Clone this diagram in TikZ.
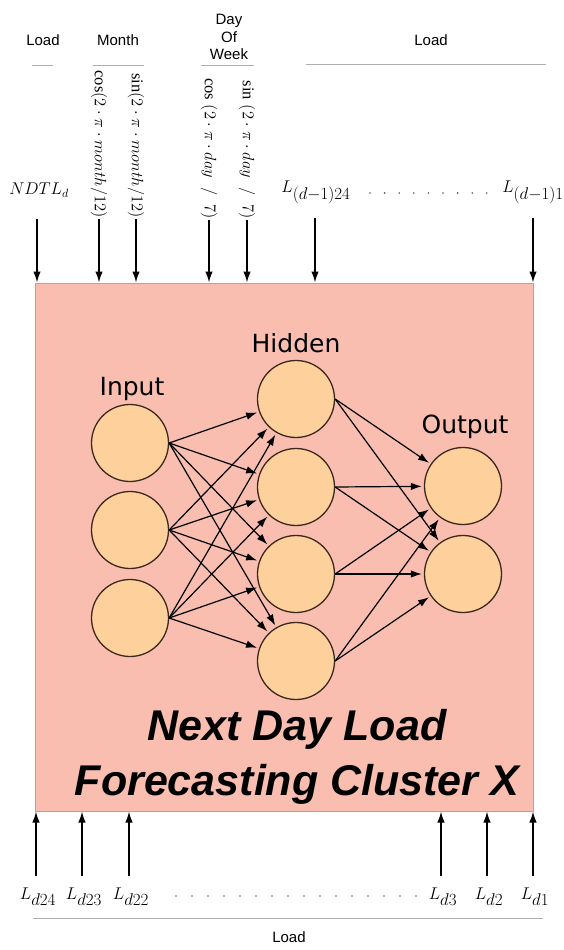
\documentclass[tikz,border=0pt]{standalone}
\usepackage{fix-cm}
\usepackage{fontspec}
\setmainfont{Liberation Sans}
\setmathrm{Liberation Serif}
\newfontfamily\layerfont{DejaVu Sans}
\usetikzlibrary{arrows.meta,positioning}

\definecolor{clusterfill}{RGB}{249,190,176}
\definecolor{clusterline}{RGB}{190,160,155}
\definecolor{neuronfill}{RGB}{253,208,156}
\definecolor{neuronline}{RGB}{60,40,30}
\definecolor{bracket}{RGB}{175,175,175}
\definecolor{dotgray}{RGB}{90,90,90}

\tikzset{
  neuron/.style={circle, draw=neuronline, fill=neuronfill, line width=1.3pt,
    minimum size=77pt, inner sep=0pt},
  layer/.style={font=\layerfont\fontsize{25}{30}\selectfont, anchor=base},
  group/.style={font=\fontsize{15}{17.5}\selectfont, align=center},
  feature/.style={font=\fontsize{16.5}{19}\selectfont, rotate=-90, anchor=east, inner sep=1pt},
  load/.style={font=\fontsize{17}{20}\selectfont, inner sep=1pt},
  title/.style={font=\fontsize{43}{55}\selectfont\bfseries\itshape, anchor=base},
  link/.style={->, line width=1.2pt, shorten >=2pt},
  feed/.style={->, line width=1.5pt},
}

\begin{document}
\begin{tikzpicture}[x=1pt,y=-1pt,>={Latex[length=11pt,width=7.5pt]}]
    \useasboundingbox (0,0) rectangle (563,950);

    % the cluster box
    \node[draw=clusterline, fill=clusterfill, line width=1pt, minimum width=498pt,
      minimum height=528pt, inner sep=0pt] (cluster) at (284,547) {};

    % the three layers of neurons
    \foreach \n/\y in {1/443,2/530,3/618}
        \node[neuron] (in\n) at (130,\y) {};
    \foreach \n/\y in {1/399,2/487,3/574,4/661}
        \node[neuron] (hid\n) at (296,\y) {};
    \foreach \n/\y in {1/486,2/574}
        \node[neuron] (out\n) at (463,\y) {};

    \node[layer] (inlabel) at (132,395) {Input};
    \node[layer] (hidlabel) at (296,352) {Hidden};
    \node[layer] (outlabel) at (465,433) {Output};

    % every input to every hidden, every hidden to every output
    \foreach \i in {1,2,3}
        \foreach \h in {1,...,4}
            \draw[link] (in\i.east) -- (hid\h);
    \foreach \h in {1,...,4}
        \foreach \o in {1,2}
            \draw[link] (hid\h.east) -- (out\o);

    \node[title] (title1) at (297,740) {Next Day Load};
    \node[title] (title2) at (297,795) {Forecasting Cluster X};

    % groups of the inputs on top
    \node[group] (loadA) at (43,40) {Load};
    \node[group] (month) at (118,40) {Month};
    \node[group] (week) at (229,37) {Day\\Of\\Week};
    \node[group] (loadB) at (431,40) {Load};
    \draw[bracket, line width=1pt] (32,66) -- (53,66);
    \draw[bracket, line width=1pt] (93,66) -- (144,66);
    \draw[bracket, line width=1pt] (201,66) -- (254,66);
    \draw[bracket, line width=1pt] (306,65) -- (546,65);

    % the inputs on top
    \node[load] (ndtl) at (39,190) {$NDTL_d$};
    \node[feature] (mcos) at (99,219) {$\cos(2\cdot\pi\cdot month/12)$};
    \node[feature] (msin) at (136,219) {$\sin(2\cdot\pi\cdot month/12)$};
    \node[feature] (dcos) at (209,220) {$\cos\;(2\cdot\pi\cdot day\;\;/\;\;7)$};
    \node[feature] (dsin) at (247,220) {$\sin\;(2\cdot\pi\cdot day\;\;/\;\;7)$};
    \node[load] (lag24) at (316,192) {$L_{\textstyle(d{-}1)24}$};
    \node[load] (lag1) at (533,192) {$L_{\textstyle(d{-}1)1}$};
    \foreach \k in {0,...,8}
        \fill[dotgray] (370+14.6*\k,193) circle (0.9);

    \draw[feed] (ndtl) ++(-2,29) -- ([xshift=-2pt]ndtl |- cluster.north);
    \foreach \f in {mcos,msin,dcos,dsin}
        \draw[feed] (\f.east) -- (\f.east |- cluster.north);
    \draw[feed] (lag24) ++(-1,26) -- ([xshift=-1pt]lag24 |- cluster.north);
    \draw[feed] (lag1) ++(0,26) -- (lag1 |- cluster.north);

    % the inputs below
    \foreach \x/\n in {36/24,82/23,129/22,441/3,487/2,533/1} {
        \node[load] (ld\n) at (\x+2,897) {$L_{\textstyle d\n}$};
        \draw[feed] (ld\n) ++(-2,-21) -- ([xshift=-2pt]ld\n |- cluster.south);
    }
    \foreach \k in {0,...,15}
        \fill[dotgray] (176+16*\k,896) circle (0.9);
    \draw[bracket, line width=1pt] (33,918) -- (543,918);
    \node[group] (loadC) at (289,937) {Load};
\end{tikzpicture}
\end{document}
